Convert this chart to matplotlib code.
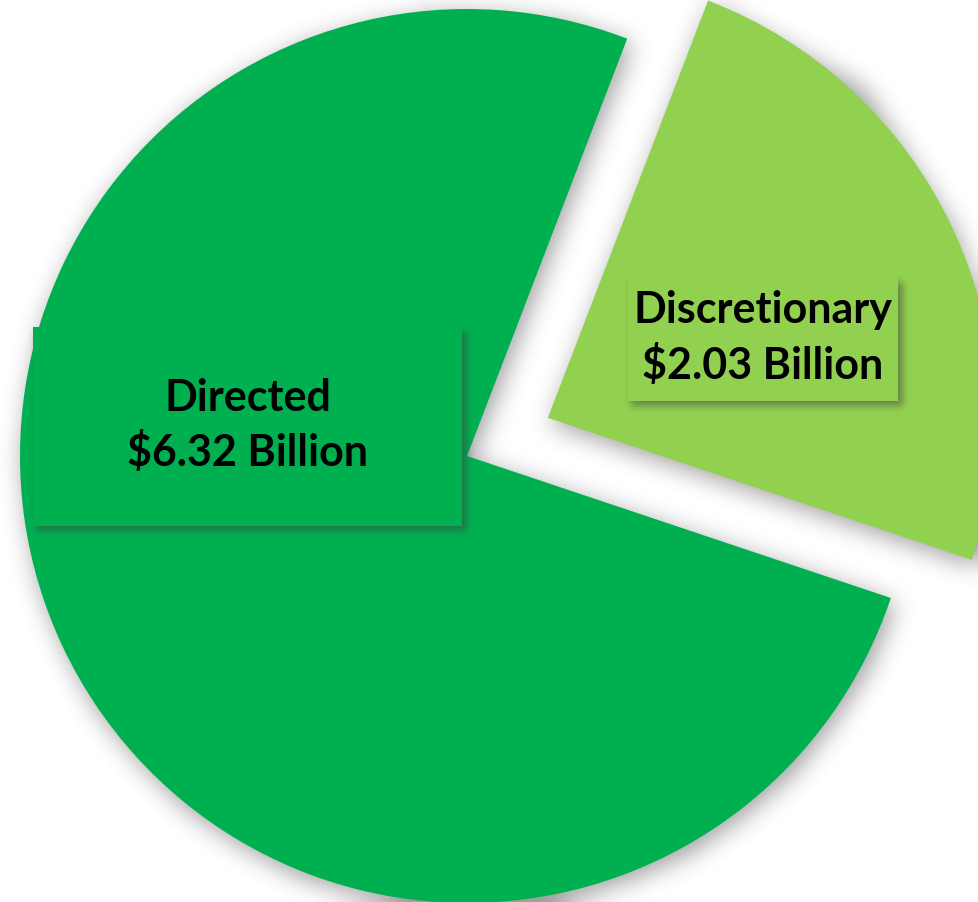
import numpy as np
import matplotlib
matplotlib.use("Agg")
import matplotlib.pyplot as plt
from matplotlib.patches import Rectangle
from matplotlib.path import Path

labels = ["Directed", "Discretionary"]
values = [6.32, 2.03]          # $ billion
colors = ["#00B050", "#92D050"]
explode = [0.0, 0.2]

W, H = 979, 903
CX, CY, R = 467, 457, 447      # pie centre / radius in pixels (y from top)

def to_data(px, py):
    return (np.asarray(px) - CX) / R, (CY - np.asarray(py)) / R

fig = plt.figure(figsize=(W / 100, H / 100), dpi=100)
ax = fig.add_axes([0, 0, 1, 1])

wedges, _ = ax.pie(values, explode=explode, colors=colors, startangle=69,
                   radius=1, frame=True, wedgeprops=dict(linewidth=0, zorder=2))
x0d, y1d = to_data(0, 0); x1d, y0d = to_data(W, H)
ax.set_xlim(x0d, x1d); ax.set_ylim(y0d, y1d); ax.set_aspect("equal"); ax.axis("off")

# pixel grid (row 0 = top) in data coords
yy, xx = np.mgrid[0:H, 0:W]
gx, gy = to_data(xx.ravel() + 0.5, yy.ravel() + 0.5)
pts = np.column_stack([gx, gy])

def blur(a, r, n=3):
    # repeated box blur ~ gaussian
    for _ in range(n):
        for axis in (0, 1):
            pad = [(r + 1, r) if i == axis else (0, 0) for i in range(2)]
            c = np.cumsum(np.pad(a, pad, mode="edge"), axis=axis)
            if axis == 0:
                a = (c[2 * r + 1:] - c[:-2 * r - 1]) / (2 * r + 1)
            else:
                a = (c[:, 2 * r + 1:] - c[:, :-2 * r - 1]) / (2 * r + 1)
    return a

def shadow(mask, r, alpha, zorder):
    m = blur(mask.astype(float), r)
    img = np.zeros((H, W, 4)); img[..., :3] = 0.25
    img[..., 3] = np.clip(m, 0, 1) * alpha
    ax.imshow(img, extent=(x0d, x1d, y0d, y1d), origin="upper", zorder=zorder,
              interpolation="bilinear")

# soft drop shadow under the pie slices
pie_mask = np.zeros(H * W, bool)
for w in wedges:
    p = w.get_path()
    pie_mask |= Path(p.vertices + [4 / R, -6 / R], p.codes).contains_points(pts)
shadow(pie_mask.reshape(H, W), 11, 0.5, 1)

# label boxes (left, top, right, bottom in pixels)
boxes = [(33, 328, 462, 527), (628, 278, 898, 402)]
box_mask = np.zeros((H, W), bool)
for (bl, bt, br, bb) in boxes:
    box_mask[bt + 5:bb + 5, bl + 3:br + 5] = True
shadow(box_mask, 3, 0.5, 3)

for (bl, bt, br, bb), lab, val, col in zip(boxes, labels, values, colors):
    (l, r), (b, t) = to_data([bl, br], [bb, bt])
    ax.add_patch(Rectangle((l, b), r - l, t - b, facecolor=col, edgecolor="none", zorder=4))
    tx, ty = to_data((bl + br) / 2, (bt + bb) / 2 - 2)
    ax.text(tx, ty, f"{lab}\n${val:.2f} Billion",
            ha="center", va="center", fontsize=31, fontweight="bold", family="Lato",
            linespacing=1.38, color="black", zorder=5)

fig.savefig("out.png", dpi=100)
